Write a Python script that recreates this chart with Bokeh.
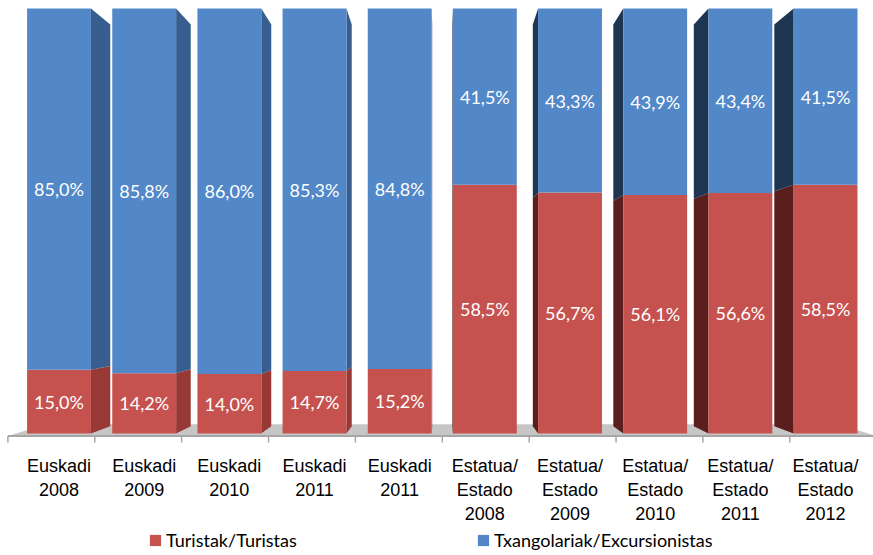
from bokeh.plotting import figure
from bokeh.models import ColumnDataSource, Legend, LegendItem, Range1d
from bokeh.core.properties import value
from bokeh.embed import file_html
from bokeh.resources import INLINE

# ---- data ----
categories = ["Euskadi\n2008", "Euskadi\n2009", "Euskadi\n2010", "Euskadi\n2011", "Euskadi\n2011",
              "Estatua/\nEstado\n2008", "Estatua/\nEstado\n2009", "Estatua/\nEstado\n2010",
              "Estatua/\nEstado\n2011", "Estatua/\nEstado\n2012"]
turistak = [15.0, 14.2, 14.0, 14.7, 15.2, 58.5, 56.7, 56.1, 56.6, 58.5]
txangolariak = [85.0, 85.8, 86.0, 85.3, 84.8, 41.5, 43.3, 43.9, 43.4, 41.5]
series_names = ["Turistak/Turistas", "Txangolariak/Excursionistas"]

# ---- style ----
RED, BLUE = "#c6524f", "#5287c8"
SIDE_L = {"red": "#983936", "blue": "#375e8e"}
SIDE_R = {"red": "#5a1e1c", "blue": "#1f3653"}
FLOOR = "#c6c6c6"
FLOOR_EDGE = "#a6a6a6"
W = 0.75           # front width of a bar (data units)
VX, VY = 4.5, 31.0 # vanishing point (data units)
DEPTH = 0.055      # bar depth (perspective factor)
F_FRONT, F_BACK = -0.02, 0.07
LABEL_TOP = -5.3   # top of the category labels (y data units)

def persp(x, y, d):
    return VX + (x - VX) * (1 - d), VY + (y - VY) * (1 - d)

n = len(categories)
xs_idx = list(range(n))
bottom_blue = turistak[:]
top_blue = [t + e for t, e in zip(turistak, txangolariak)]

p = figure(width=873, height=555, output_backend="svg", toolbar_location=None,
           x_range=Range1d(-0.687, 9.563), y_range=Range1d(-28.71, 101.88),
           min_border_left=0, min_border_right=0, min_border_top=0, min_border_bottom=0,
           background_fill_color="white", border_fill_color="white", outline_line_color=None)
p.xaxis.visible = False
p.yaxis.visible = False
p.xgrid.visible = False
p.ygrid.visible = False

# floor
fl = [persp(-0.5, 0, F_FRONT), persp(9.5, 0, F_FRONT), persp(9.5, 0, F_BACK), persp(-0.5, 0, F_BACK)]
p.patch([q[0] for q in fl], [q[1] for q in fl], fill_color=FLOOR, line_color=None)
fx0, fy0 = persp(-0.5, 0, F_FRONT)
fx1, _ = persp(9.5, 0, F_FRONT)
p.line([fx0, fx1], [fy0, fy0], line_color=FLOOR_EDGE, line_width=2)
tick_x = [persp(b - 0.5, 0, F_FRONT)[0] for b in range(n + 1)]
p.segment(x0=tick_x, y0=[fy0] * len(tick_x), x1=tick_x, y1=[fy0 - 1.5] * len(tick_x),
          line_color=FLOOR_EDGE, line_width=1.5)

# side faces (perspective) computed from the data
side_xs, side_ys, side_cols = [], [], []
for i in range(n):
    edge = i + W / 2 if i < VX else i - W / 2
    pal = SIDE_L if i < VX else SIDE_R
    for (y0, y1, key) in [(0, turistak[i], "red"), (turistak[i], top_blue[i], "blue")]:
        bx0, by0 = persp(edge, y0, DEPTH)
        bx1, by1 = persp(edge, y1, DEPTH)
        side_xs.append([edge, edge, bx1, bx0])
        side_ys.append([y0, y1, by1, by0])
        side_cols.append(pal[key])
p.patches(side_xs, side_ys, fill_color=side_cols, line_color=None)

# front faces
src = ColumnDataSource(dict(x=xs_idx, tur=turistak, b=bottom_blue, t=top_blue))
r_red = p.vbar(x="x", width=W, bottom=0, top="tur", source=src, fill_color=RED, line_color=None)
r_blue = p.vbar(x="x", width=W, bottom="b", top="t", source=src, fill_color=BLUE, line_color=None)

# data labels
def fmt(v):
    return f"{v:.1f}".replace(".", ",") + "%"
lab_x = xs_idx + xs_idx
lab_y = [t / 2 for t in turistak] + [(b + t) / 2 for b, t in zip(bottom_blue, top_blue)]
lab_t = [fmt(v) for v in turistak] + [fmt(v) for v in txangolariak]
p.text(x=lab_x, y=lab_y, text=lab_t, text_color="white", text_align="center",
       text_baseline="middle", text_font=value("Lato"), text_font_size=value("18px"))

# category labels under each bar
p.text(x=xs_idx, y=[LABEL_TOP] * n, text=categories, text_color="black", text_align="center",
       text_baseline="top", text_font=value("Liberation Sans"), text_font_size=value("18px"),
       text_line_height=1.2)

# legend (two pieces placed like the original)
for r, name, lx in [(r_red, series_names[0], 148), (r_blue, series_names[1], 476)]:
    lg = Legend(items=[LegendItem(label=name, renderers=[r])], location=(lx, 4),
                orientation="horizontal", glyph_width=14, glyph_height=14, label_height=14,
                label_standoff=4, padding=0, margin=0, border_line_color=None,
                background_fill_alpha=0, label_text_font="Lato", label_text_font_size="18px",
                label_text_color="black")
    p.add_layout(lg, "center")

open("out.html", "w").write(file_html(p, INLINE))
